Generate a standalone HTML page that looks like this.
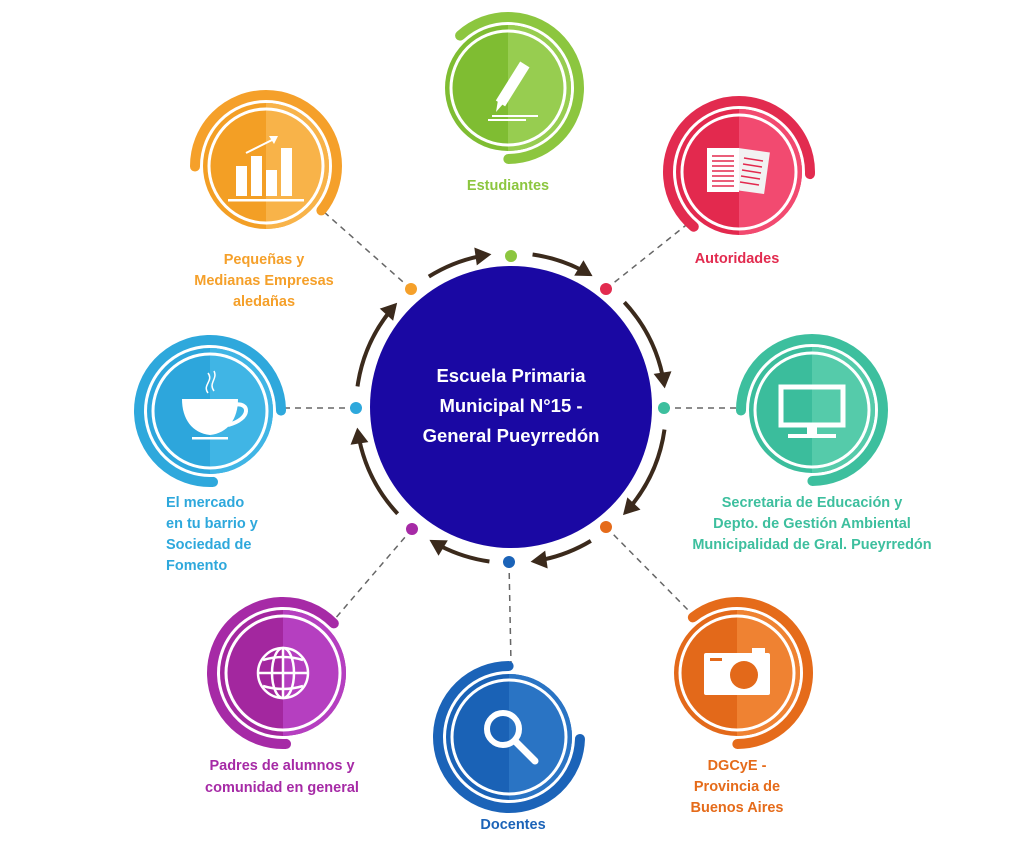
<!DOCTYPE html>
<html><head><meta charset="utf-8"><style>
html,body{margin:0;padding:0;background:#fff;}
svg{display:block;}
text{font-family:"Liberation Sans",sans-serif;font-weight:bold;}
</style></head><body>
<svg width="1024" height="849" viewBox="0 0 1024 849" xmlns="http://www.w3.org/2000/svg">
<rect width="1024" height="849" fill="#fff"/>

<!-- dashed connectors -->
<g stroke="#666" stroke-width="1.5" stroke-dasharray="6 5" fill="none">
<line x1="411" y1="289" x2="324" y2="212"/>
<line x1="606" y1="289" x2="690" y2="222"/>
<line x1="664" y1="408" x2="738" y2="408"/>
<line x1="606" y1="527" x2="692" y2="614"/>
<line x1="509" y1="562" x2="511" y2="664"/>
<line x1="412" y1="529" x2="334" y2="620"/>
<line x1="356" y1="408" x2="284" y2="408"/>
</g>

<!-- center -->
<circle cx="511" cy="407" r="141" fill="#1a08a3"/>
<text x="511" y="382" font-size="18.5" fill="#fff" text-anchor="middle">Escuela Primaria</text>
<text x="511" y="412" font-size="18.5" fill="#fff" text-anchor="middle">Municipal N°15 -</text>
<text x="511" y="442" font-size="18.5" fill="#fff" text-anchor="middle">General Pueyrredón</text>

<!-- ring arcs -->
<g fill="none" stroke="#3b2a1c" stroke-width="4" transform="translate(511,408)">
<circle r="155" pathLength="360" stroke-dasharray="20 340" transform="rotate(238)"/>
<circle r="155" pathLength="360" stroke-dasharray="19 341" transform="rotate(278)"/>
<circle r="155" pathLength="360" stroke-dasharray="31 329" transform="rotate(317)"/>
<circle r="155" pathLength="360" stroke-dasharray="31 329" transform="rotate(8)"/>
<circle r="155" pathLength="360" stroke-dasharray="19 341" transform="rotate(59)"/>
<circle r="155" pathLength="360" stroke-dasharray="19 341" transform="rotate(98)"/>
<circle r="155" pathLength="360" stroke-dasharray="31 329" transform="rotate(137)"/>
<circle r="155" pathLength="360" stroke-dasharray="30 330" transform="rotate(188)"/>
</g>
<g fill="#3b2a1c" transform="translate(511,408)">
<polygon points="155,2 146,-14 164,-14" transform="rotate(262)"/>
<polygon points="155,2 146,-14 164,-14" transform="rotate(301)"/>
<polygon points="155,2 146,-14 164,-14" transform="rotate(352)"/>
<polygon points="155,2 146,-14 164,-14" transform="rotate(43)"/>
<polygon points="155,2 146,-14 164,-14" transform="rotate(82)"/>
<polygon points="155,2 146,-14 164,-14" transform="rotate(121)"/>
<polygon points="155,2 146,-14 164,-14" transform="rotate(172)"/>
<polygon points="155,2 146,-14 164,-14" transform="rotate(222)"/>
</g>

<!-- dots -->
<circle cx="511" cy="256" r="6" fill="#8cc63f"/>
<circle cx="606" cy="289" r="6" fill="#e22b4f"/>
<circle cx="664" cy="408" r="6" fill="#3dbf9e"/>
<circle cx="606" cy="527" r="6" fill="#e56b1a"/>
<circle cx="509" cy="562" r="6" fill="#1b63b8"/>
<circle cx="412" cy="529" r="6" fill="#a62aa6"/>
<circle cx="356" cy="408" r="6" fill="#2ea8dc"/>
<circle cx="411" cy="289" r="6" fill="#f5a02a"/>

<!-- GREEN Estudiantes -->
<g transform="translate(508,88)">
<circle r="71" fill="none" stroke="#8cc63f" stroke-width="10" stroke-linecap="round" pathLength="360" stroke-dasharray="222 138" transform="rotate(228)"/>
<circle r="63" fill="#7fbd32"/>
<path d="M0,-63 A63,63 0 0 1 0,63 Z" fill="#97cd50"/>
<circle r="57" fill="none" stroke="#fff" stroke-width="3"/>
<g fill="#fff">
<polygon points="-5,16 -12,24 -10,12" />
<rect x="-6" y="-30" width="11" height="46" transform="rotate(32 0 -7) translate(6,0)"/>
<rect x="-16" y="27" width="46" height="2"/>
<rect x="-20" y="31" width="38" height="2"/>
</g>
</g>
<text x="508" y="190" font-size="14.5" fill="#8cc63f" text-anchor="middle">Estudiantes</text>

<!-- RED Autoridades -->
<g transform="translate(739,172)">
<circle r="71" fill="none" stroke="#e22b4f" stroke-width="10" stroke-linecap="round" pathLength="360" stroke-dasharray="232 128" transform="rotate(130)"/>
<circle r="63" fill="#e3294e"/>
<path d="M0,-63 A63,63 0 0 1 0,63 Z" fill="#f24a70"/>
<circle r="57" fill="none" stroke="#fff" stroke-width="3"/>
<rect x="-4" y="-22" width="32" height="42" fill="#f2f2f2" transform="rotate(8 12 0)"/>
<rect x="-32" y="-24" width="32" height="44" fill="#fff"/>
<g stroke="#e3294e" stroke-width="1.5">
<line x1="-27" y1="-16" x2="-5" y2="-16"/><line x1="-27" y1="-11" x2="-5" y2="-11"/><line x1="-27" y1="-6" x2="-5" y2="-6"/><line x1="-27" y1="-1" x2="-5" y2="-1"/><line x1="-27" y1="4" x2="-5" y2="4"/><line x1="-27" y1="9" x2="-5" y2="9"/><line x1="-27" y1="14" x2="-5" y2="14"/>
<line x1="5" y1="-14" x2="24" y2="-11"/><line x1="4" y1="-8" x2="23" y2="-5"/><line x1="3" y1="-2" x2="22" y2="1"/><line x1="2" y1="4" x2="21" y2="7"/><line x1="1" y1="10" x2="20" y2="13"/>
</g>
</g>
<text x="737" y="263" font-size="14.5" fill="#e22b4f" text-anchor="middle">Autoridades</text>

<!-- YELLOW Pequeñas -->
<g transform="translate(266,166)">
<circle r="71" fill="none" stroke="#f5a02a" stroke-width="10" stroke-linecap="round" pathLength="360" stroke-dasharray="219 141" transform="rotate(180)"/>
<circle r="63" fill="#f39f25"/>
<path d="M0,-63 A63,63 0 0 1 0,63 Z" fill="#f8b349"/>
<circle r="57" fill="none" stroke="#fff" stroke-width="3"/>
<g fill="#fff">
<rect x="-30" y="0" width="11" height="30"/>
<rect x="-15" y="-10" width="11" height="40"/>
<rect x="0" y="4" width="11" height="26"/>
<rect x="15" y="-18" width="11" height="48"/>
<rect x="-38" y="33" width="76" height="2.5"/>
<line x1="-20" y1="-13" x2="8" y2="-27" stroke="#fff" stroke-width="2"/>
<polygon points="12,-30 3,-30 8,-22"/>
</g>
</g>
<g font-size="14.5" fill="#f5a02a" text-anchor="middle">
<text x="264" y="264">Pequeñas y</text>
<text x="264" y="285">Medianas Empresas</text>
<text x="264" y="306">aledañas</text>
</g>

<!-- CYAN mercado -->
<g transform="translate(210,411)">
<circle r="71" fill="none" stroke="#2ea8dc" stroke-width="10" stroke-linecap="round" pathLength="360" stroke-dasharray="272 88" transform="rotate(88)"/>
<circle r="63" fill="#2da6dc"/>
<path d="M0,-63 A63,63 0 0 1 0,63 Z" fill="#40b5e5"/>
<circle r="57" fill="none" stroke="#fff" stroke-width="3"/>
<path d="M-28,-12 L28,-12 C28,8 18,22 0,24 C-18,22 -28,8 -28,-12 Z" fill="#fff"/>
<path d="M24,-6 C40,-10 42,8 18,14" fill="none" stroke="#fff" stroke-width="4"/>
<rect x="-18" y="26" width="36" height="2.5" fill="#fff"/>
<path d="M-2,-18 C-8,-26 4,-30 -2,-38 M4,-20 C-2,-28 8,-32 4,-40" fill="none" stroke="#fff" stroke-width="1.5"/>
</g>
<g font-size="14.5" fill="#2ea8dc">
<text x="166" y="507">El mercado</text>
<text x="166" y="528">en tu barrio y</text>
<text x="166" y="549">Sociedad de</text>
<text x="166" y="570">Fomento</text>
</g>

<!-- TEAL Secretaria -->
<g transform="translate(812,410)">
<circle r="71" fill="none" stroke="#3dbf9e" stroke-width="10" stroke-linecap="round" pathLength="360" stroke-dasharray="270 90" transform="rotate(180)"/>
<circle r="63" fill="#3bbd9c"/>
<path d="M0,-63 A63,63 0 0 1 0,63 Z" fill="#55cbaa"/>
<circle r="57" fill="none" stroke="#fff" stroke-width="3"/>
<rect x="-31" y="-23" width="62" height="38" fill="none" stroke="#fff" stroke-width="5"/>
<rect x="-5" y="15" width="10" height="9" fill="#fff"/>
<rect x="-24" y="24" width="48" height="4" fill="#fff"/>
</g>
<g font-size="14.5" fill="#3dbf9e" text-anchor="middle">
<text x="812" y="507">Secretaria de Educación y</text>
<text x="812" y="528">Depto. de Gestión Ambiental</text>
<text x="812" y="549">Municipalidad de Gral. Pueyrredón</text>
</g>

<!-- ORANGE DGCyE -->
<g transform="translate(737,673)">
<circle r="71" fill="none" stroke="#e56b1a" stroke-width="10" stroke-linecap="round" pathLength="360" stroke-dasharray="218 142" transform="rotate(232)"/>
<circle r="63" fill="#e3691a"/>
<path d="M0,-63 A63,63 0 0 1 0,63 Z" fill="#ef8232"/>
<circle r="57" fill="none" stroke="#fff" stroke-width="3"/>
<rect x="-33" y="-20" width="66" height="42" rx="2" fill="#fff"/>
<rect x="15" y="-25" width="13" height="6" fill="#fff"/>
<circle cx="7" cy="2" r="14" fill="#e3691a"/>
<rect x="-27" y="-15" width="12" height="3" fill="#e3691a"/>
</g>
<g font-size="14.5" fill="#e56b1a" text-anchor="middle">
<text x="737" y="770">DGCyE -</text>
<text x="737" y="791">Provincia de</text>
<text x="737" y="812">Buenos Aires</text>
</g>

<!-- BLUE Docentes -->
<g transform="translate(509,737)">
<circle r="71" fill="none" stroke="#1b63b8" stroke-width="10" stroke-linecap="round" pathLength="360" stroke-dasharray="268 92" transform="rotate(2)"/>
<circle r="63" fill="#1a62b6"/>
<path d="M0,-63 A63,63 0 0 1 0,63 Z" fill="#2a74c4"/>
<circle r="57" fill="none" stroke="#fff" stroke-width="3"/>
<circle cx="-6" cy="-8" r="16" fill="none" stroke="#fff" stroke-width="6"/>
<line x1="6" y1="4" x2="26" y2="24" stroke="#fff" stroke-width="7" stroke-linecap="round"/>
</g>
<text x="513" y="829" font-size="14.5" fill="#1b63b8" text-anchor="middle">Docentes</text>

<!-- PURPLE Padres -->
<g transform="translate(283,673)">
<circle r="71" fill="none" stroke="#a62aa6" stroke-width="10" stroke-linecap="round" pathLength="360" stroke-dasharray="228 132" transform="rotate(88)"/>
<circle r="63" fill="#a3279f"/>
<path d="M0,-63 A63,63 0 0 1 0,63 Z" fill="#b53fc0"/>
<circle r="57" fill="none" stroke="#fff" stroke-width="3"/>
<g fill="none" stroke="#fff" stroke-width="2.5">
<circle r="25"/>
<ellipse rx="11" ry="25"/>
<line x1="0" y1="-25" x2="0" y2="25"/>
<line x1="-25" y1="0" x2="25" y2="0"/>
<path d="M-20,-13 Q0,-19 20,-13 M-20,13 Q0,19 20,13"/>
</g>
</g>
<g font-size="14.5" fill="#a62aa6" text-anchor="middle">
<text x="282" y="770">Padres de alumnos y</text>
<text x="282" y="792">comunidad en general</text>
</g>
</svg>
</body></html>
